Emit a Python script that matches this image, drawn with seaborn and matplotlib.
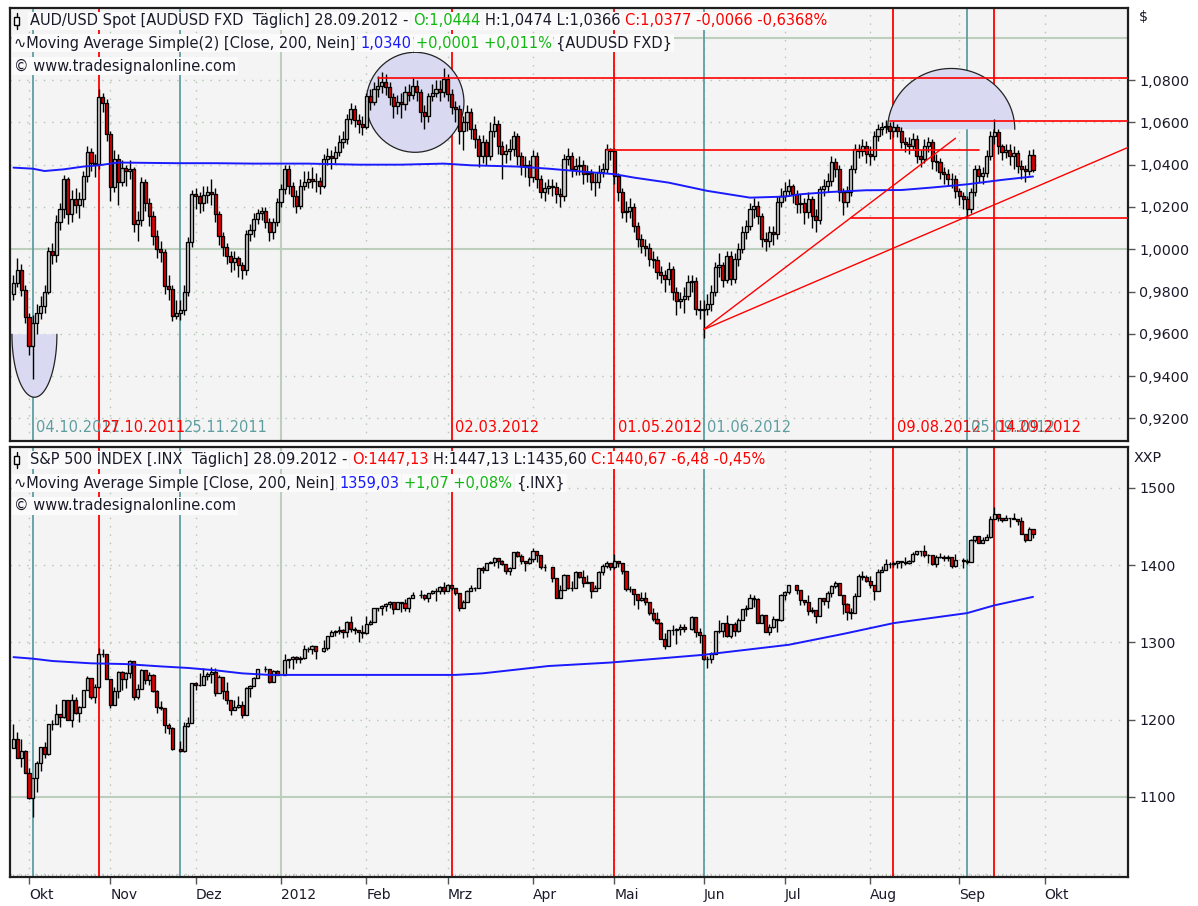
import numpy as np
import pandas as pd
import matplotlib
matplotlib.use("Agg")
import matplotlib.pyplot as plt
import seaborn as sns
from matplotlib.patches import Ellipse, Polygon, Rectangle
from matplotlib.lines import Line2D
from matplotlib.ticker import FuncFormatter

# ------------------------------------------------------------------ data
dates = pd.bdate_range("2011-09-27", "2012-09-28")   # one candle per weekday

# AUD/USD daily candles, in pips (1/10000); open = previous close
aud_first_open = 9790
aud_close = [
    9840, 9900, 9805, 9680, 9541, 9650, 9700, 9730, 9800, 9990,
    9975, 10130, 10190, 10330, 10165, 10236, 10210, 10236, 10345, 10460,
    10410, 10405, 10720, 10690, 10544, 10293, 10426, 10320, 10385, 10370,
    10378, 10118, 10140, 10317, 10220, 10156, 10061, 10000, 9985, 9825,
    9810, 9683, 9700, 9712, 9800, 10033, 10260, 10250, 10220, 10255,
    10270, 10262, 10165, 10061, 10010, 9967, 9940, 9960, 9925, 9900,
    10071, 10090, 10142, 10170, 10180, 10128, 10080, 10128, 10222, 10284,
    10380, 10300, 10250, 10203, 10300, 10317, 10330, 10325, 10322, 10300,
    10426, 10440, 10430, 10460, 10506, 10520, 10615, 10662, 10610, 10590,
    10580, 10723, 10695, 10757, 10770, 10790, 10766, 10719, 10676, 10695,
    10686, 10742, 10730, 10770, 10745, 10648, 10629, 10723, 10740, 10757,
    10742, 10804, 10733, 10671, 10662, 10558, 10600, 10648, 10567, 10520,
    10440, 10506, 10440, 10558, 10591, 10487, 10450, 10465, 10473, 10534,
    10440, 10392, 10400, 10340, 10440, 10331, 10270, 10290, 10300, 10295,
    10260, 10250, 10426, 10440, 10378, 10395, 10400, 10355, 10360, 10317,
    10320, 10364, 10380, 10473, 10465, 10345, 10270, 10175, 10180, 10200,
    10110, 10047, 10014, 10005, 9953, 9950, 9891, 9880, 9858, 9905,
    9797, 9754, 9764, 9780, 9844, 9850, 9716, 9712, 9716, 9740,
    9797, 9915, 9925, 9853, 9967, 9858, 9953, 10000, 10080, 10110,
    10190, 10203, 10156, 10047, 10040, 10080, 10070, 10222, 10250, 10274,
    10298, 10260, 10213, 10220, 10175, 10236, 10156, 10140, 10284, 10298,
    10322, 10411, 10378, 10270, 10222, 10270, 10378, 10473, 10465, 10487,
    10450, 10440, 10534, 10567, 10577, 10582, 10558, 10577, 10560, 10506,
    10500, 10487, 10520, 10440, 10426, 10487, 10506, 10418, 10411, 10364,
    10355, 10331, 10330, 10274, 10250, 10236, 10190, 10270, 10378, 10345,
    10360, 10440, 10534, 10553, 10487, 10460, 10470, 10440, 10455, 10392,
    10378, 10370, 10444, 10377]
aud_high = [
    9880, 9960, 9930, 9830, 9700, 9690, 9740, 9780, 9830, 10010,
    10030, 10160, 10220, 10350, 10340, 10280, 10290, 10270, 10370, 10490,
    10480, 10450, 10757, 10740, 10710, 10560, 10470, 10450, 10420, 10400,
    10420, 10390, 10180, 10340, 10330, 10240, 10180, 10090, 10040, 10000,
    9880, 9830, 9760, 9760, 9830, 10060, 10280, 10290, 10270, 10300,
    10300, 10330, 10290, 10180, 10080, 10030, 9990, 9990, 9970, 9940,
    10090, 10120, 10170, 10190, 10200, 10200, 10150, 10150, 10240, 10310,
    10400, 10400, 10320, 10280, 10330, 10370, 10370, 10390, 10360, 10340,
    10450, 10480, 10470, 10490, 10540, 10560, 10640, 10690, 10680, 10640,
    10630, 10740, 10760, 10790, 10820, 10840, 10830, 10790, 10740, 10730,
    10740, 10770, 10780, 10810, 10800, 10760, 10680, 10740, 10780, 10800,
    10800, 10855, 10830, 10760, 10700, 10680, 10630, 10680, 10670, 10590,
    10540, 10540, 10520, 10600, 10630, 10610, 10510, 10500, 10520, 10560,
    10550, 10460, 10440, 10420, 10470, 10460, 10350, 10320, 10330, 10330,
    10320, 10290, 10450, 10480, 10460, 10430, 10440, 10420, 10400, 10380,
    10360, 10400, 10410, 10500, 10480, 10480, 10360, 10290, 10230, 10240,
    10220, 10130, 10070, 10050, 10030, 9990, 9970, 9920, 9900, 9940,
    9920, 9820, 9800, 9820, 9880, 9880, 9870, 9760, 9760, 9790,
    9830, 9940, 9980, 9940, 9990, 9990, 9980, 10030, 10110, 10140,
    10220, 10240, 10230, 10170, 10080, 10110, 10110, 10250, 10290, 10320,
    10330, 10310, 10280, 10260, 10240, 10270, 10250, 10190, 10300, 10330,
    10360, 10440, 10430, 10400, 10290, 10300, 10400, 10500, 10500, 10520,
    10510, 10490, 10560, 10590, 10600, 10610, 10600, 10605, 10590, 10580,
    10530, 10530, 10550, 10540, 10470, 10520, 10530, 10520, 10450, 10430,
    10390, 10380, 10360, 10350, 10290, 10270, 10250, 10290, 10400, 10400,
    10390, 10470, 10560, 10615, 10570, 10500, 10500, 10500, 10490, 10470,
    10420, 10400, 10470, 10474]
aud_low = [
    9760, 9820, 9780, 9650, 9500, 9387, 9600, 9670, 9700, 9790,
    9930, 9940, 10090, 10150, 10120, 10130, 10170, 10150, 10200, 10320,
    10370, 10340, 10380, 10650, 10510, 10230, 10270, 10210, 10300, 10300,
    10330, 10080, 10040, 10110, 10180, 10110, 10020, 9960, 9940, 9790,
    9760, 9660, 9670, 9663, 9690, 9780, 10010, 10190, 10170, 10180,
    10220, 10210, 10130, 10020, 9970, 9930, 9890, 9900, 9870, 9860,
    9880, 10040, 10060, 10120, 10140, 10100, 10040, 10050, 10110, 10200,
    10260, 10260, 10200, 10170, 10190, 10280, 10290, 10290, 10270, 10260,
    10290, 10400, 10380, 10410, 10440, 10480, 10500, 10590, 10580, 10550,
    10540, 10570, 10660, 10680, 10720, 10740, 10730, 10680, 10620, 10640,
    10620, 10660, 10700, 10710, 10700, 10600, 10570, 10600, 10700, 10720,
    10700, 10720, 10700, 10640, 10600, 10500, 10470, 10560, 10520, 10480,
    10390, 10410, 10400, 10420, 10530, 10450, 10330, 10410, 10420, 10440,
    10400, 10350, 10340, 10300, 10320, 10290, 10240, 10230, 10260, 10250,
    10220, 10200, 10230, 10400, 10340, 10350, 10350, 10310, 10320, 10280,
    10250, 10290, 10340, 10360, 10420, 10310, 10230, 10150, 10130, 10150,
    10080, 10010, 9980, 9970, 9920, 9910, 9860, 9840, 9800, 9830,
    9760, 9690, 9720, 9700, 9760, 9800, 9690, 9670, 9581, 9690,
    9710, 9780, 9870, 9820, 9840, 9830, 9840, 9920, 9980, 10050,
    10090, 10150, 10120, 10010, 9990, 10010, 10020, 10050, 10200, 10230,
    10250, 10220, 10170, 10170, 10120, 10150, 10100, 10080, 10120, 10250,
    10270, 10300, 10340, 10230, 10160, 10200, 10250, 10360, 10430, 10440,
    10410, 10400, 10420, 10510, 10540, 10550, 10520, 10530, 10530, 10480,
    10460, 10450, 10470, 10410, 10390, 10410, 10460, 10380, 10370, 10330,
    10310, 10300, 10290, 10240, 10210, 10190, 10150, 10170, 10250, 10320,
    10310, 10340, 10420, 10500, 10450, 10420, 10430, 10400, 10380, 10360,
    10330, 10320, 10350, 10366]

# S&P 500 daily candles (None = US market holiday); open = previous close
spx_first_open = 1163
spx_close = [
    1175, 1151, 1160, 1131, 1099, 1124, 1144, 1165, 1155, 1195,
    1195, 1207, 1203, 1225, 1200, 1225, 1209, 1216, 1238, 1254,
    1229, 1242, 1285, 1285, 1253, 1219, 1237, 1262, 1253, 1261,
    1276, 1229, 1240, 1264, 1251, 1258, 1237, 1216, 1215, 1193,
    1189, 1162, None, 1159, 1192, 1196, 1247, 1245, 1245, 1257,
    1259, 1262, 1234, 1255, 1237, 1226, 1212, 1216, 1219, 1206,
    1241, 1243, 1254, 1265, None, 1265, 1249, 1263, 1258, None,
    1277, 1278, 1281, 1278, 1280, 1292, 1292, 1295, 1289, None,
    1293, 1308, 1314, 1315, 1316, 1314, 1326, 1318, 1316, 1313,
    1312, 1324, 1326, 1345, 1344, 1347, 1350, 1352, 1343, 1352,
    1351, 1344, 1358, 1361, None, 1362, 1358, 1364, 1366, 1367,
    1372, 1366, 1374, 1370, 1364, 1344, 1353, 1366, 1370, 1371,
    1396, 1394, 1403, 1404, 1409, 1405, 1402, 1393, 1397, 1417,
    1412, 1405, 1403, 1408, 1419, 1413, 1398, 1398, None, 1383,
    1358, 1368, 1387, 1370, 1370, 1391, 1385, 1377, 1378, 1366,
    1371, 1391, 1399, 1403, 1398, 1406, 1403, 1392, 1369, 1369,
    1363, 1355, 1358, 1353, 1338, 1330, 1325, 1305, 1295, 1316,
    1316, 1318, 1320, 1317, None, 1333, 1313, 1310, 1278, 1278,
    1285, 1315, 1315, 1325, 1308, 1324, 1315, 1329, 1343, 1345,
    1358, 1356, 1325, 1335, 1314, 1320, 1331, 1329, 1362, 1365,
    1374, None, 1368, 1355, 1352, 1341, 1342, 1334, 1357, 1354,
    1364, 1373, 1377, 1362, 1350, 1339, 1338, 1360, 1386, 1385,
    1379, 1375, 1366, 1391, 1394, 1401, 1402, 1403, 1405, 1404,
    1403, 1406, 1415, 1418, 1418, 1413, 1413, 1402, 1411, 1410,
    1409, 1410, 1399, 1407, None, 1405, 1404, 1433, 1438, 1429,
    1433, 1436, 1460, 1466, 1461, 1459, 1461, 1461, 1460, 1457,
    1441, 1433, 1447.13, 1440.67]
spx_high = [
    1195, 1184, 1175, 1161, 1138, 1125, 1146, 1165, 1171, 1195,
    1200, 1220, 1207, 1225, 1226, 1233, 1229, 1218, 1239, 1256,
    1254, 1246, 1293, 1292, 1285, 1253, 1242, 1263, 1263, 1262,
    1277, 1276, 1246, 1266, 1264, 1262, 1259, 1239, 1224, 1215,
    1196, 1190, None, 1172, 1197, 1203, 1247, 1249, 1260, 1267,
    1262, 1268, 1267, 1258, 1255, 1249, 1226, 1226, 1231, 1224,
    1242, 1245, 1255, 1265, None, 1269, 1266, 1264, 1264, None,
    1285, 1279, 1283, 1282, 1282, 1297, 1294, 1297, 1296, None,
    1303, 1309, 1316, 1316, 1321, 1317, 1328, 1334, 1320, 1316,
    1322, 1334, 1329, 1345, 1345, 1349, 1351, 1354, 1352, 1353,
    1353, 1356, 1359, 1365, None, 1368, 1363, 1364, 1368, 1371,
    1373, 1378, 1376, 1374, 1371, 1364, 1355, 1368, 1374, 1372,
    1396, 1399, 1403, 1405, 1410, 1409, 1407, 1402, 1398, 1417,
    1419, 1414, 1406, 1410, 1422, 1419, 1413, 1401, None, 1398,
    1384, 1374, 1388, 1387, 1379, 1392, 1391, 1394, 1387, 1378,
    1375, 1392, 1401, 1406, 1403, 1415, 1406, 1403, 1392, 1373,
    1369, 1363, 1365, 1365, 1353, 1345, 1339, 1326, 1312, 1316,
    1323, 1319, 1324, 1324, None, 1334, 1333, 1319, 1310, 1282,
    1287, 1315, 1329, 1325, 1335, 1324, 1327, 1332, 1343, 1348,
    1363, 1362, 1358, 1337, 1335, 1324, 1334, 1331, 1363, 1366,
    1374, None, 1374, 1368, 1355, 1361, 1346, 1342, 1357, 1357,
    1366, 1375, 1380, 1377, 1362, 1351, 1344, 1364, 1389, 1392,
    1387, 1386, 1375, 1395, 1399, 1408, 1404, 1405, 1406, 1405,
    1411, 1407, 1417, 1419, 1418, 1426, 1415, 1413, 1413, 1416,
    1413, 1413, 1410, 1414, None, 1409, 1408, 1434, 1438, 1438,
    1437, 1440, 1464, 1475, 1466, 1461, 1465, 1461, 1467, 1460,
    1463, 1441, 1450, 1447.13]
spx_low = [
    1163, 1150, 1139, 1131, 1098, 1074, 1107, 1134, 1150, 1154,
    1187, 1194, 1190, 1202, 1199, 1191, 1207, 1197, 1216, 1238,
    1227, 1221, 1241, 1281, 1253, 1215, 1219, 1228, 1239, 1241,
    1254, 1226, 1227, 1240, 1246, 1245, 1236, 1209, 1213, 1183,
    1181, 1161, None, 1158, 1158, 1191, 1196, 1239, 1243, 1245,
    1252, 1248, 1231, 1234, 1227, 1220, 1206, 1212, 1215, 1202,
    1206, 1229, 1243, 1254, None, 1262, 1248, 1249, 1258, None,
    1258, 1267, 1265, 1274, 1274, 1279, 1287, 1285, 1278, None,
    1288, 1290, 1308, 1309, 1311, 1306, 1307, 1314, 1311, 1300,
    1306, 1311, 1322, 1326, 1341, 1335, 1341, 1344, 1337, 1343,
    1340, 1341, 1340, 1358, None, 1357, 1355, 1352, 1363, 1354,
    1363, 1363, 1366, 1368, 1362, 1341, 1344, 1353, 1366, 1366,
    1371, 1390, 1394, 1403, 1399, 1397, 1400, 1389, 1387, 1397,
    1411, 1401, 1392, 1401, 1404, 1404, 1395, 1393, None, 1378,
    1358, 1358, 1368, 1369, 1366, 1370, 1383, 1372, 1377, 1358,
    1366, 1371, 1387, 1397, 1394, 1395, 1398, 1388, 1367, 1365,
    1348, 1343, 1354, 1349, 1336, 1328, 1324, 1305, 1292, 1295,
    1310, 1298, 1310, 1314, None, 1316, 1307, 1299, 1277, 1267,
    1274, 1285, 1312, 1307, 1307, 1306, 1309, 1313, 1329, 1334,
    1345, 1346, 1325, 1325, 1313, 1310, 1319, 1313, 1328, 1355,
    1363, None, 1363, 1349, 1348, 1336, 1338, 1325, 1334, 1348,
    1345, 1359, 1371, 1362, 1337, 1329, 1331, 1338, 1360, 1381,
    1378, 1371, 1355, 1366, 1391, 1394, 1397, 1398, 1397, 1397,
    1400, 1401, 1404, 1413, 1412, 1410, 1403, 1400, 1398, 1409,
    1406, 1406, 1397, 1398, None, 1396, 1401, 1404, 1430, 1429,
    1429, 1432, 1435, 1460, 1457, 1456, 1458, 1450, 1460, 1452,
    1441, 1430, 1433, 1435.6]

# 200-day moving averages (trading-day number, value)
aud_ma_day = [0, 5, 8, 13, 18, 22, 27, 42, 52, 62, 76, 89, 100, 111, 118, 130,
              138, 147, 155, 160, 169, 179, 190, 199, 203, 211, 220, 229, 237, 246, 255, 263]
aud_ma = [1.0386, 1.0381, 1.0370, 1.0378, 1.0391, 1.0397, 1.0410, 1.0407, 1.0407,
          1.0405, 1.0405, 1.0400, 1.0400, 1.0405, 1.0397, 1.0391, 1.0381, 1.0367,
          1.0355, 1.0339, 1.0315, 1.0276, 1.0244, 1.0249, 1.0260, 1.0271, 1.0279,
          1.0280, 1.0292, 1.0307, 1.0328, 1.0344]
spx_ma_day = [0, 5, 10, 20, 29, 38, 45, 52, 59, 66, 79, 98, 114, 121, 130, 138,
              154, 178, 200, 214, 227, 246, 253, 263]
spx_ma = [1281, 1279, 1276, 1273, 1272, 1269, 1267, 1264, 1260, 1258, 1258, 1258,
          1258, 1260, 1265, 1269.5, 1274, 1284, 1297, 1311, 1325, 1338, 1348, 1359]

# vertical marker lines
marker_dates = ["2011-10-04", "2011-10-27", "2011-11-25", "2012-03-02", "2012-05-01",
                "2012-06-01", "2012-08-09", "2012-09-05", "2012-09-14"]
marker_kind = ["teal", "red", "teal", "red", "red", "teal", "red", "teal", "red"]

# horizontal drawings on AUD/USD (level, from, to)
aud_levels = [1.0808, 1.0605, 1.0470, 1.0150]
aud_level_from = ["2012-02-06", "2012-08-08", "2012-04-27", "2012-07-25"]
aud_level_to = [None, None, "2012-09-10", None]
# trend lines (start date, start price, second date, second price, extend to edge)
aud_trends = [("2012-06-01", 0.9620, "2012-08-31", 1.0525, False),
              ("2012-06-01", 0.9620, "2012-09-05", 1.0155, True)]

month_starts = ["2011-10-01", "2011-11-01", "2011-12-01", "2012-01-01", "2012-02-01",
                "2012-03-01", "2012-04-01", "2012-05-01", "2012-06-01", "2012-07-01",
                "2012-08-01", "2012-09-01", "2012-10-01"]
month_labels = ["Okt", "Nov", "Dez", "2012", "Feb", "Mrz", "Apr", "Mai", "Jun", "Jul",
                "Aug", "Sep", "Okt"]

aud_ticks = [0.92, 0.94, 0.96, 0.98, 1.00, 1.02, 1.04, 1.06, 1.08]
spx_ticks = [1100, 1200, 1300, 1400, 1500]

# ------------------------------------------------------------------ style
sns.set_theme(style="white")
plt.rcParams["font.family"] = ["DejaVu Sans"]

BG = "#f4f4f4"
GRID = "#b2c6b2"
GRID_SOLID = "#bccfbc"
TEAL = "#5f9ea0"
RED = "#ff0000"
UP = "#cbcbcb"
DOWN = "#e00000"
MA_COL = "#1a1aff"
LAV = "#d9d9f1"
TXT = "#1a1a2a"
GREEN = "#12b812"
FS = 10.5       # header / label text
FS_AX = 10.3    # axis tick labels

n = len(dates)
xpos = np.arange(n)


def pos(d):
    d = pd.Timestamp(d)
    if d > dates[-1]:
        return n - 1 + (d - dates[-1]).days
    return int(dates.searchsorted(d))


XMIN, XMAX = -1.03, 287.5

fig = plt.figure(figsize=(11.98, 9.06), dpi=100)
fig.patch.set_facecolor("white")
ax1 = fig.add_axes([9.5 / 1198, 1 - 441 / 906, 1118.5 / 1198, 433 / 906])
ax2 = fig.add_axes([9.5 / 1198, 1 - 877 / 906, 1118.5 / 1198, 430 / 906])


def prep_axis(ax, ylim, ticks, fmt, solid_levels, extra_dotted=()):
    ax.set_facecolor(BG)
    ax.set_xlim(XMIN, XMAX)
    ax.set_ylim(*ylim)
    for s in ax.spines.values():
        s.set_color("#1e1e1e")
        s.set_linewidth(1.6)
    ax.yaxis.tick_right()
    ax.set_yticks(ticks)
    ax.yaxis.set_major_formatter(FuncFormatter(fmt))
    ax.tick_params(axis="y", which="major", right=True, left=False, length=5, width=1,
                   color="#555555", pad=3, labelsize=FS_AX, labelcolor=TXT)
    for v in list(ticks) + list(extra_dotted):
        if v not in solid_levels:
            ax.axhline(v, color=GRID, lw=1.0, ls=(0, (1, 5)), zorder=1)
    for v in solid_levels:
        ax.axhline(v, color=GRID_SOLID, lw=1.5, zorder=1)
    mpos = [pos(d) for d in month_starts]
    for p, lab in zip(mpos, month_labels):
        if lab == "2012":
            ax.axvline(p, color=GRID_SOLID, lw=1.5, zorder=1)
        else:
            ax.axvline(p, color=GRID, lw=1.0, ls=(0, (1, 5)), zorder=1)
    for d, k in zip(marker_dates, marker_kind):
        ax.axvline(pos(d), color=TEAL if k == "teal" else RED, lw=1.3, zorder=2)
    ax.grid(False)


prep_axis(ax1, (0.9093, 1.1141), aud_ticks, lambda v, p: f"{v:.4f}".replace(".", ","),
          [1.00, 1.10])
prep_axis(ax2, (996.4, 1553), spx_ticks, lambda v, p: f"{v:.0f}", [1100],
          extra_dotted=[1000])


def draw_candles(ax, first_open, close, high, low, scale=1.0):
    c = np.array([np.nan if v is None else v for v in close], float) * scale
    h = np.array([np.nan if v is None else v for v in high], float) * scale
    l = np.array([np.nan if v is None else v for v in low], float) * scale
    o = pd.Series(c).ffill().shift(1).to_numpy()
    o[0] = first_open * scale
    ok = ~np.isnan(c)
    xs, o, h, l, c = xpos[ok], o[ok], h[ok], l[ok], c[ok]
    h = np.maximum(h, np.maximum(o, c))
    l = np.minimum(l, np.minimum(o, c))
    ax.vlines(xs, l, h, colors="black", linewidth=1.0, zorder=4)
    up = c >= o
    bottom = np.minimum(o, c)
    height = np.abs(c - o)
    ax.bar(xs[up], height[up], bottom=bottom[up], width=0.8, color=UP,
           edgecolor="black", linewidth=0.95, zorder=5)
    ax.bar(xs[~up], height[~up], bottom=bottom[~up], width=0.8, color=DOWN,
           edgecolor="black", linewidth=0.95, zorder=5)


# ---------------- shapes (drawn behind the candles)
circ = Ellipse((103.6, 1.0695), 25.2, 0.0473, facecolor=LAV, edgecolor="#222222",
               lw=0.9, zorder=3)
ax1.add_patch(circ)


def half_ellipse(ax, cx, cy, a, b, lower):
    t = np.linspace(np.pi, 2 * np.pi, 80) if lower else np.linspace(0, np.pi, 80)
    px = cx + a * np.cos(t)
    py = cy + b * np.sin(t)
    ax.add_patch(Polygon(np.column_stack([px, py]), closed=True, facecolor=LAV,
                         edgecolor="none", zorder=3))
    ax.plot(px, py, color="#222222", lw=0.9, zorder=3.1)


half_ellipse(ax1, 5.4, 0.9598, 5.8, 0.0298, lower=True)
half_ellipse(ax1, 241.9, 1.0567, 16.4, 0.0288, lower=False)

draw_candles(ax1, aud_first_open, aud_close, aud_high, aud_low, scale=1e-4)
draw_candles(ax2, spx_first_open, spx_close, spx_high, spx_low)

# moving averages
sns.lineplot(x=aud_ma_day, y=aud_ma, ax=ax1, color=MA_COL, linewidth=1.4,
             estimator=None, sort=False, zorder=6)
sns.lineplot(x=spx_ma_day, y=spx_ma, ax=ax2, color=MA_COL, linewidth=1.4,
             estimator=None, sort=False, zorder=6)
for ax in (ax1, ax2):
    ax.set_xlabel("")
    ax.set_ylabel("")

# red drawings on AUD/USD
for lev, f, t in zip(aud_levels, aud_level_from, aud_level_to):
    x0 = pos(f)
    x1 = XMAX if t is None else pos(t)
    ax1.plot([x0, x1], [lev, lev], color=RED, lw=1.2, zorder=7)
for d0, p0, d1, p1, ext in aud_trends:
    x0, x1 = pos(d0), pos(d1)
    if ext:
        slope = (p1 - p0) / (x1 - x0)
        x1, p1 = XMAX, p0 + slope * (XMAX - x0)
    ax1.plot([x0, x1], [p0, p1], color=RED, lw=1.0, zorder=7)

# marker date labels (they overlap each other in the original as well)
for d, k in zip(marker_dates, marker_kind):
    col = TEAL if k == "teal" else RED
    ax1.annotate(pd.Timestamp(d).strftime("%d.%m.%Y"), xy=(pos(d), 0.032),
                 xycoords=("data", "axes fraction"), xytext=(2.5, 0),
                 textcoords="offset points", color=col, fontsize=FS,
                 va="center", ha="left", zorder=8)

# x axis
ax1.set_xticks([])
ax2.set_xticks([pos(d) for d in month_starts])
ax2.set_xticklabels(month_labels, ha="left")
ax2.set_xticks(xpos, minor=True)
ax2.tick_params(axis="x", which="major", bottom=True, length=5, width=1, color="#555555",
                pad=3, labelsize=10, labelcolor=TXT)
ax2.tick_params(axis="x", which="minor", bottom=True, direction="in", length=2,
                width=0.6, color="#aaaaaa")

# ---------------- header texts
BOX = dict(boxstyle="square,pad=0.12", fc="#fbfbfb", ec="none")


def rich(ax, x, y, parts):
    t = None
    for s, col in parts:
        kw = dict(color=col, fontsize=FS, va="center", ha="left", zorder=20, bbox=BOX,
                  annotation_clip=False)
        if t is None:
            t = ax.annotate(s, xy=(x, y), xycoords="axes fraction", **kw)
        else:
            t = ax.annotate(s, xy=(1, 0.5), xycoords=t, xytext=(3.3, 0),
                            textcoords="offset points", **kw)


def candle_icon(ax, y_frac, panel_h):
    px = 1.0 / 1118.5
    py = 1.0 / panel_h
    x0 = (16.5 - 9.5) * px
    ax.add_line(Line2D([x0, x0], [y_frac - 8 * py, y_frac + 8 * py], color="black",
                       lw=1.0, transform=ax.transAxes, zorder=21))
    ax.add_patch(Rectangle((x0 - 2.5 * px, y_frac - 4 * py), 5 * px, 8 * py,
                           facecolor="white", edgecolor="black", lw=1.0,
                           transform=ax.transAxes, zorder=22))


fx = lambda p: (p - 9.5) / 1118.5

candle_icon(ax1, 0.970, 433)
rich(ax1, fx(30), 0.970, [("AUD/USD Spot [AUDUSD FXD  Täglich] 28.09.2012 -", TXT),
                          ("O:1,0444", GREEN), ("H:1,0474 L:1,0366", TXT),
                          ("C:1,0377 -0,0066 -0,6368%", RED)])
rich(ax1, fx(14), 0.919, [("∿Moving Average Simple(2) [Close, 200, Nein]", TXT),
                          ("1,0340", MA_COL), ("+0,0001 +0,011%", GREEN),
                          ("{AUDUSD FXD}", TXT)])
rich(ax1, fx(14), 0.866, [("© www.tradesignalonline.com", TXT)])

candle_icon(ax2, 0.970, 430)
rich(ax2, fx(30), 0.970, [("S&P 500 INDEX [.INX  Täglich] 28.09.2012 -", TXT),
                          ("O:1447,13", RED), ("H:1447,13 L:1435,60", TXT),
                          ("C:1440,67 -6,48 -0,45%", RED)])
rich(ax2, fx(14), 0.916, [("∿Moving Average Simple [Close, 200, Nein]", TXT),
                          ("1359,03", MA_COL), ("+1,07 +0,08%", GREEN), ("{.INX}", TXT)])
rich(ax2, fx(14), 0.863, [("© www.tradesignalonline.com", TXT)])

fig.text(1139 / 1198, 1 - 17 / 906, r"\$", fontsize=FS_AX, color=TXT, ha="left", va="center")
fig.text(1134 / 1198, 1 - 458 / 906, "XXP", fontsize=FS_AX, color=TXT, ha="left", va="center")

fig.savefig("out.png", dpi=100, facecolor="white")
